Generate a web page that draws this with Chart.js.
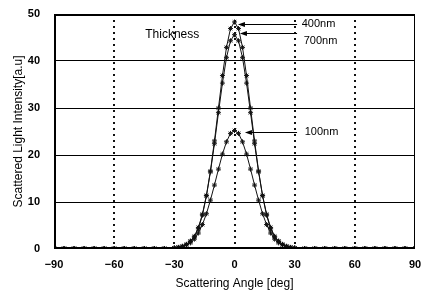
<!DOCTYPE html>
<html>
<head>
<meta charset="utf-8">
<script src="https://cdn.jsdelivr.net/npm/chart.js@4"></script>
<style>
  html, body { margin: 0; padding: 0; background: #fff; }
  #wrap { width: 424px; height: 293px; }
</style>
</head>
<body>
<div id="wrap"><canvas id="c" width="424" height="293"></canvas></div>
<script>
// scattering angle [deg]
const angles = [-90, -85, -80, -75, -70, -65, -60, -55, -50, -45, -40, -35,
  -30, -28, -26, -24, -22, -20, -18, -16, -14, -12, -10, -8, -6, -4, -2, 0,
  2, 4, 6, 8, 10, 12, 14, 16, 18, 20, 22, 24, 26, 28, 30,
  35, 40, 45, 50, 55, 60, 65, 70, 75, 80, 85, 90];

// intensity [a.u] per thickness
const t400 = [0.1, 0.1, 0.1, 0.1, 0.1, 0.1, 0.1, 0.1, 0.1, 0.1, 0.1, 0.1,
  0.2, 0.3, 0.5, 0.9, 1.6, 2.5, 4.3, 7.2, 11.3, 16.6, 23.0, 30.0, 36.9, 42.9, 46.9, 48.3,
  46.9, 42.9, 36.9, 30.0, 23.0, 16.6, 11.3, 7.2, 4.3, 2.5, 1.6, 0.9, 0.5, 0.3, 0.2,
  0.1, 0.1, 0.1, 0.1, 0.1, 0.1, 0.1, 0.1, 0.1, 0.1, 0.1, 0.1];
const t700 = [0.1, 0.1, 0.1, 0.1, 0.1, 0.1, 0.1, 0.1, 0.1, 0.1, 0.1, 0.1,
  0.2, 0.35, 0.6, 1.0, 1.7, 2.7, 4.6, 7.4, 11.4, 16.4, 22.4, 29.0, 35.3, 40.7, 44.3, 45.6,
  44.3, 40.7, 35.3, 29.0, 22.4, 16.4, 11.4, 7.4, 4.6, 2.7, 1.7, 1.0, 0.6, 0.35, 0.2,
  0.1, 0.1, 0.1, 0.1, 0.1, 0.1, 0.1, 0.1, 0.1, 0.1, 0.1, 0.1];
const t100 = [0.1, 0.1, 0.1, 0.1, 0.1, 0.1, 0.1, 0.1, 0.1, 0.1, 0.1, 0.1,
  0.2, 0.3, 0.5, 0.9, 1.3, 2.1, 3.4, 5.2, 7.5, 10.4, 13.6, 17.0, 20.2, 22.8, 24.6, 25.2,
  24.6, 22.8, 20.2, 17.0, 13.6, 10.4, 7.5, 5.2, 3.4, 2.1, 1.3, 0.9, 0.5, 0.3, 0.2,
  0.1, 0.1, 0.1, 0.1, 0.1, 0.1, 0.1, 0.1, 0.1, 0.1, 0.1, 0.1];

const xTicks = [-90, -60, -30, 0, 30, 60, 90];
const yTicks = [0, 10, 20, 30, 40, 50];

const FONT = '"Liberation Sans", Arial, sans-serif';

function pts(vals) {
  return angles.map((a, i) => ({ x: a, y: vals[i] }));
}

function series(label, vals) {
  return {
    label: label,
    data: pts(vals),
    borderColor: "#111",
    backgroundColor: "#111",
    borderWidth: 1,
    pointStyle: "star",
    pointRadius: 2.5,
    pointBorderWidth: 1,
    tension: 0
  };
}

// frame + arrows + labels
const extras = {
  id: "extras",
  afterDatasetsDraw(chart) {
    const { ctx, chartArea: a, scales: { x, y } } = chart;
    ctx.save();
    ctx.strokeStyle = "#000";
    ctx.lineWidth = 1;
    ctx.strokeRect(a.left + 0.5, a.top + 0.5, a.right - a.left - 1, a.bottom - a.top - 1);
    ctx.lineWidth = 2;
    ctx.beginPath();
    ctx.moveTo(a.left + 1, a.top + 1);
    ctx.lineTo(a.right, a.top + 1);
    ctx.moveTo(a.left + 1, a.top);
    ctx.lineTo(a.left + 1, a.bottom);
    ctx.moveTo(a.left, a.bottom - 1);
    ctx.lineTo(a.right, a.bottom - 1);
    ctx.stroke();

    function arrow(fromX, toX, atY) {
      const x1 = x.getPixelForValue(fromX), x2 = x.getPixelForValue(toX);
      const py = Math.round(y.getPixelForValue(atY)) + 0.5;
      ctx.lineWidth = 1;
      ctx.beginPath();
      ctx.moveTo(x1, py);
      ctx.lineTo(x2 + 5, py);
      ctx.stroke();
      ctx.beginPath();
      ctx.moveTo(x2, py);
      ctx.lineTo(x2 + 7, py - 2.5);
      ctx.lineTo(x2 + 7, py + 2.5);
      ctx.closePath();
      ctx.fill();
    }
    ctx.fillStyle = "#000";
    arrow(31.2, 1.7, 47.9);
    arrow(31.2, 2.7, 46.0);
    arrow(31.2, 5.2, 24.9);

    ctx.font = "11px " + FONT;
    ctx.textBaseline = "middle";
    ctx.textAlign = "left";
    ctx.fillText("400nm", x.getPixelForValue(33.5), y.getPixelForValue(47.9));
    ctx.fillText("700nm", x.getPixelForValue(34.5), y.getPixelForValue(44.2));
    ctx.fillText("100nm", x.getPixelForValue(35), y.getPixelForValue(24.8));
    ctx.font = "12px " + FONT;
    ctx.fillText("Thickness", x.getPixelForValue(-44.5), y.getPixelForValue(45.6));
    ctx.restore();
  }
};

new Chart(document.getElementById("c"), {
  type: "line",
  data: {
    datasets: [series("400nm", t400), series("700nm", t700), series("100nm", t100)]
  },
  options: {
    responsive: false,
    animation: false,
    layout: { padding: { top: 14, right: 9, left: 0, bottom: 0 } },
    plugins: { legend: { display: false }, tooltip: { enabled: false } },
    scales: {
      x: {
        type: "linear",
        min: -90,
        max: 90,
        afterBuildTicks: s => { s.ticks = xTicks.map(v => ({ value: v })); },
        afterFit: s => { s.height = 44; },
        border: { display: false, dash: [2, 4] },
        grid: {
          drawTicks: true,
          tickLength: 9,
          tickColor: "rgba(0,0,0,0)",
          lineWidth: 2,
          color: c => (Math.abs(c.tick.value) === 90 ? "rgba(0,0,0,0)" : "#111")
        },
        ticks: {
          padding: 0,
          color: "#000",
          font: { family: FONT, size: 11, weight: "bold" },
          callback: v => String(v).replace("-", "\u2212")
        },
        title: {
          display: true,
          text: "Scattering Angle [deg]",
          color: "#000",
          font: { family: FONT, size: 12 },
          padding: { top: 0, bottom: 2 }
        }
      },
      y: {
        min: 0,
        max: 50,
        afterBuildTicks: s => { s.ticks = yTicks.map(v => ({ value: v })); },
        afterFit: s => { s.width = 54; },
        border: { display: false },
        grid: {
          drawTicks: true,
          tickLength: 14,
          tickColor: "rgba(0,0,0,0)",
          lineWidth: 1,
          color: c => (c.tick.value === 0 || c.tick.value === 50 ? "rgba(0,0,0,0)" : "#000")
        },
        ticks: {
          padding: 0,
          color: "#000",
          font: { family: FONT, size: 11, weight: "bold" }
        },
        title: {
          display: true,
          text: "Scattered Light Intensity[a.u]",
          color: "#000",
          font: { family: FONT, size: 12 },
          padding: { top: 11, bottom: 0 }
        }
      }
    }
  },
  plugins: [extras]
});
</script>
</body>
</html>
